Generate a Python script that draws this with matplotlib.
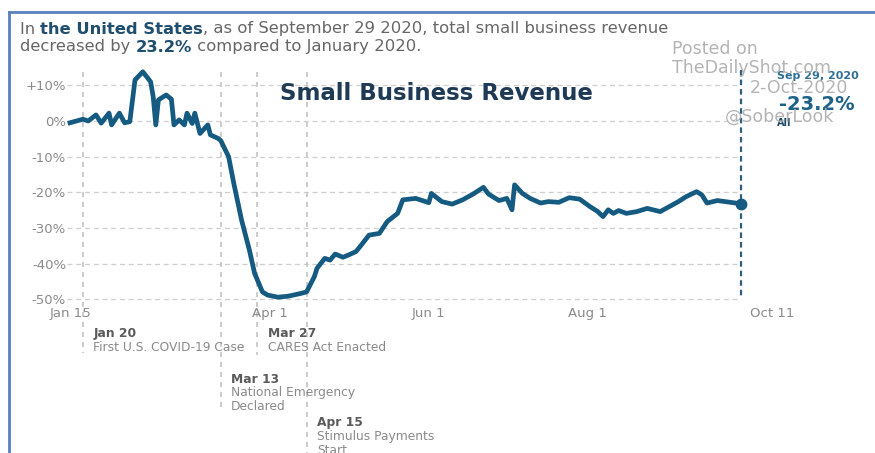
import numpy as np
import pandas as pd
import matplotlib
matplotlib.use('Agg')
import matplotlib.pyplot as plt
import matplotlib.dates as mdates
from matplotlib.transforms import IdentityTransform

plt.rcParams['font.family'] = ['DejaVu Sans']

# data (% change vs January 2020)
dates = ['2020-01-15', '2020-01-20', '2020-01-22', '2020-01-25', '2020-01-27', '2020-01-30',
         '2020-01-31', '2020-02-03', '2020-02-05', '2020-02-07', '2020-02-09', '2020-02-12',
         '2020-02-15', '2020-02-16', '2020-02-17', '2020-02-18', '2020-02-21', '2020-02-23',
         '2020-02-24', '2020-02-26', '2020-02-28', '2020-02-29', '2020-03-02', '2020-03-03',
         '2020-03-05', '2020-03-08', '2020-03-09', '2020-03-12', '2020-03-13', '2020-03-16',
         '2020-03-18', '2020-03-21', '2020-03-24', '2020-03-26', '2020-03-29', '2020-03-31',
         '2020-04-04', '2020-04-08', '2020-04-13', '2020-04-15', '2020-04-18', '2020-04-19',
         '2020-04-22', '2020-04-24', '2020-04-26', '2020-04-29', '2020-05-01', '2020-05-04',
         '2020-05-06', '2020-05-09', '2020-05-13', '2020-05-16', '2020-05-20', '2020-05-22',
         '2020-05-27', '2020-06-01', '2020-06-02', '2020-06-06', '2020-06-10', '2020-06-14',
         '2020-06-18', '2020-06-22', '2020-06-24', '2020-06-28', '2020-07-01', '2020-07-03',
         '2020-07-04', '2020-07-07', '2020-07-10', '2020-07-14', '2020-07-17', '2020-07-21',
         '2020-07-25', '2020-07-29', '2020-08-02', '2020-08-05', '2020-08-07', '2020-08-09',
         '2020-08-11', '2020-08-13', '2020-08-16', '2020-08-20', '2020-08-24', '2020-08-29',
         '2020-09-01', '2020-09-05', '2020-09-08', '2020-09-12', '2020-09-14', '2020-09-16',
         '2020-09-20', '2020-09-25', '2020-09-29']
revenue = [-0.5, 0.5, 0.0, 1.7, -0.6, 2.2,
           -1.1, 2.2, -0.5, -0.2, 11.5, 13.8,
           11.0, 6.8, -1.1, 5.9, 7.3, 6.1,
           -1.1, 0.3, -1.1, 2.2, -0.7, 2.2,
           -3.5, -1.1, -3.9, -4.9, -5.5, -10.0,
           -17.5, -27.8, -36.2, -42.7, -47.9, -48.8,
           -49.4, -49.1, -48.3, -47.9, -43.6, -41.3,
           -38.5, -39.0, -37.3, -38.2, -37.6, -36.6,
           -34.8, -32.0, -31.5, -28.2, -25.9, -22.1,
           -21.7, -22.9, -20.3, -22.6, -23.3, -22.1,
           -20.5, -18.6, -20.5, -22.3, -21.7, -24.9,
           -17.9, -20.3, -21.7, -23.0, -22.6, -22.8,
           -21.5, -21.9, -24.0, -25.4, -26.8, -24.9,
           -25.9, -25.1, -25.9, -25.4, -24.5, -25.4,
           -24.2, -22.6, -21.2, -19.8, -20.7, -23.0,
           -22.3, -22.8, -23.2]

ytick_vals = [10, 0, -10, -20, -30, -40, -50]
ytick_labels = ['+10%', '0%', '-10%', '-20%', '-30%', '-40%', '-50%']
xtick_dates = ['2020-01-15', '2020-04-01', '2020-06-01', '2020-08-01', '2020-10-11']
xtick_labels = ['Jan 15', 'Apr 1', 'Jun 1', 'Aug 1', 'Oct 11']

event_dates = ['2020-01-20', '2020-03-13', '2020-03-27', '2020-04-15']
event_heads = ['Jan 20', 'Mar 13', 'Mar 27', 'Apr 15']
event_texts = ['First U.S. COVID-19 Case', 'National Emergency\nDeclared',
               'CARES Act Enacted', 'Stimulus Payments\nStart']

last_date = '2020-09-29'
last_label = 'Sep 29, 2020'
last_value = -23.2

blue = '#155a80'

x = mdates.date2num(pd.to_datetime(dates))
fig = plt.figure(figsize=(8.75, 4.53), dpi=100)
W, H = 875, 453
# axes placed so that Jan 14..Oct 12 and -52..16 fill the plot area
ax = fig.add_axes([67.4 / W, (H - 306.5) / H, (774.6 - 67.4) / W, (306.5 - 63.9) / H])
x0 = mdates.date2num(pd.Timestamp('2020-01-14'))
x1 = mdates.date2num(pd.Timestamp('2020-10-12'))
ld = mdates.date2num(pd.Timestamp(last_date))
ax.set_xlim(x0, x1)
ax.set_ylim(-52, 16)
for s in ax.spines.values():
    s.set_visible(False)

# horizontal dashed grid, only up to the last data point
ax.hlines(ytick_vals, x0, ld, colors='#cfcfcf', linestyles=(0, (4, 3)), linewidth=0.9, zorder=1)

ax.set_yticks(ytick_vals)
ax.set_yticklabels(ytick_labels)
ax.set_xticks(mdates.date2num(pd.to_datetime(xtick_dates)))
ax.set_xticklabels(xtick_labels)
ax.tick_params(length=0, labelsize=9.5, labelcolor='#8a8a8a')
ax.tick_params(axis='y', pad=1)
ax.tick_params(axis='x', pad=0.5)

# event lines and labels
bottoms = [-0.192, -0.427, -0.2, -0.604]
heads_y = [-0.113, -0.299, -0.113, -0.48]
tr = ax.get_xaxis_transform()
for d, b, hy, head, txt in zip(event_dates, bottoms, heads_y, event_heads, event_texts):
    dt = mdates.date2num(pd.Timestamp(d))
    ax.plot([dt, dt], [0.967, b], transform=tr, clip_on=False, color='#c4c4c4',
            linestyle=(0, (3, 3)), linewidth=1.2, zorder=1)
    ax.annotate(head, xy=(dt, hy), xycoords=tr, xytext=(7.5, 0), textcoords='offset points',
                ha='left', va='center', fontsize=8.8, fontweight='bold', color='#5a5a5a',
                annotation_clip=False)
    ax.annotate(txt, xy=(dt, hy - 0.028), xycoords=tr, xytext=(7.5, 0), textcoords='offset points',
                ha='left', va='top', fontsize=8.8, color='#8a8a8a', linespacing=1.1,
                annotation_clip=False)

# the series
ax.plot(x, revenue, color=blue, linewidth=3.4, solid_joinstyle='round', zorder=3)
ax.plot([ld, ld], [0.975, 0.03], transform=tr, clip_on=False, color='#2d5f80',
        linestyle=(0, (2.5, 1.8)), linewidth=1.6, zorder=2)
ax.plot([ld], [last_value], 'o', color=blue, markersize=7.5, zorder=4)

fig.text(436 / W, (H - 94) / H, 'Small Business Revenue', ha='center', va='center',
         fontsize=16.5, fontweight='bold', color='#1f3a55')

# end annotation
fig.text(777 / W, (H - 76) / H, last_label, ha='left', va='center', fontsize=8,
         fontweight='bold', color='#2f6f96')
fig.text(779 / W, (H - 105) / H, '%.1f%%' % last_value, ha='left', va='center', fontsize=14,
         fontweight='bold', color='#1d6189')
fig.text(777 / W, (H - 123) / H, 'All', ha='left', va='center', fontsize=7,
         fontweight='bold', color='#1d4a6a')

# watermark
wm = dict(color='#b4b4b4', fontsize=12.5, ha='left', va='center')
fig.text(672 / W, (H - 49) / H, 'Posted on', **wm)
fig.text(672 / W, (H - 68) / H, 'TheDailyShot.com', **wm)
fig.text(750 / W, (H - 88) / H, '2-Oct-2020', **wm)
fig.text(725 / W, (H - 117) / H, '@SoberLook', **wm)

# header with bold parts
r = fig.canvas.get_renderer()
lines = [[('In ', False), ('the United States', True),
          (', as of September 29 2020, total small business revenue', False)],
         [('decreased by ', False), ('23.2%', True), (' compared to January 2020.', False)]]
for yy, parts in zip([H - 29, H - 47], lines):
    xx = 20
    for s, b in parts:
        t = fig.text(xx, yy, s, transform=IdentityTransform(), ha='left', va='center',
                     fontsize=11.8, fontweight='bold' if b else 'normal',
                     color='#1f4e6e' if b else '#666666')
        xx += t.get_window_extent(r).width

# frame on left and top
fig.add_artist(plt.Line2D([9 / W, 9 / W], [0, (H - 12) / H], color='#5b7fbf', linewidth=2))
fig.add_artist(plt.Line2D([9 / W, 1], [(H - 12) / H, (H - 12) / H], color='#5b7fbf', linewidth=2))

fig.savefig('out.png', dpi=100)
